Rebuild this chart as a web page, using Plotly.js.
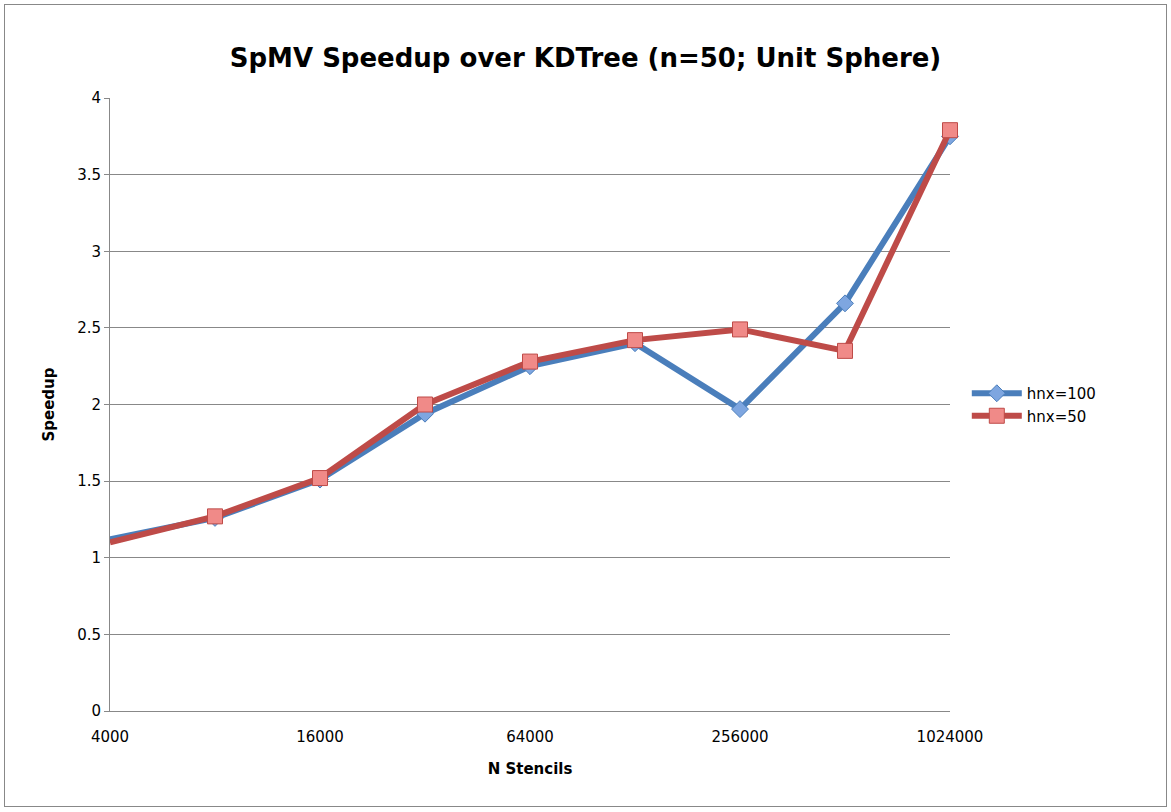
<!DOCTYPE html>
<html><head><meta charset="utf-8">
<script src="https://cdn.plot.ly/plotly-3.0.1.min.js"></script>
<style>body{margin:0;background:#fff}#c{position:absolute;left:4px;top:4px;width:1161px;height:801px;border:1px solid #888}</style>
</head><body><div id="c"></div>
<script>
const stencils=[4000,8000,16000,32000,64000,128000,256000,512000,1024000];
const hnx100=[1.12,1.26,1.51,1.94,2.25,2.40,1.97,2.66,3.75];
const hnx50=[1.10,1.27,1.52,2.00,2.28,2.42,2.49,2.35,3.79];
const tickVals=[4000,16000,64000,256000,1024000];
const tickText=['4000','16000','64000','256000','1024000'];
const f="'DejaVu Sans', sans-serif";
Plotly.newPlot('c',[
 {x:stencils,y:hnx100,name:'hnx=100',mode:'lines+markers',cliponaxis:false,line:{color:'#4a7ebb',width:6},
  marker:{symbol:'diamond',size:13,color:'#7ea6e0',line:{color:'#4a7ebb',width:1}}},
 {x:stencils,y:hnx50,name:'hnx=50',mode:'lines+markers',cliponaxis:false,line:{color:'#be4b48',width:6},
  marker:{symbol:'square',size:15,color:'#f08a88',line:{color:'#be4b48',width:1}}}
],{
 width:1161,height:801,margin:{l:105,r:216,t:93,b:95},
 paper_bgcolor:'#fff',plot_bgcolor:'#fff',font:{family:f,color:'#000'},
 title:{text:'<b>SpMV Speedup over KDTree (n=50; Unit Sphere)</b>',font:{size:26},x:0.5,xanchor:'center',y:0.945},
 xaxis:{type:'log',range:[Math.log10(4000),Math.log10(1024000)],tickvals:tickVals,ticktext:tickText,
  showgrid:false,showline:true,linecolor:'#888',ticks:'outside',ticklen:12,tickcolor:'rgba(0,0,0,0)',tickfont:{size:15},
  title:{text:'<b>N Stencils</b>',font:{size:15},standoff:18},zeroline:false},
 yaxis:{range:[0,4],dtick:0.5,showgrid:true,gridcolor:'#888',showline:true,linecolor:'#888',ticks:'outside',ticklen:5,tickcolor:'#888',
  tickfont:{size:15},title:{text:'<b>Speedup</b>',font:{size:15},standoff:18},zeroline:false},
 legend:{x:1.02,y:0.5,yanchor:'middle',font:{size:15},tracegroupgap:20,itemwidth:50}
},{displayModeBar:false});
</script></body></html>
